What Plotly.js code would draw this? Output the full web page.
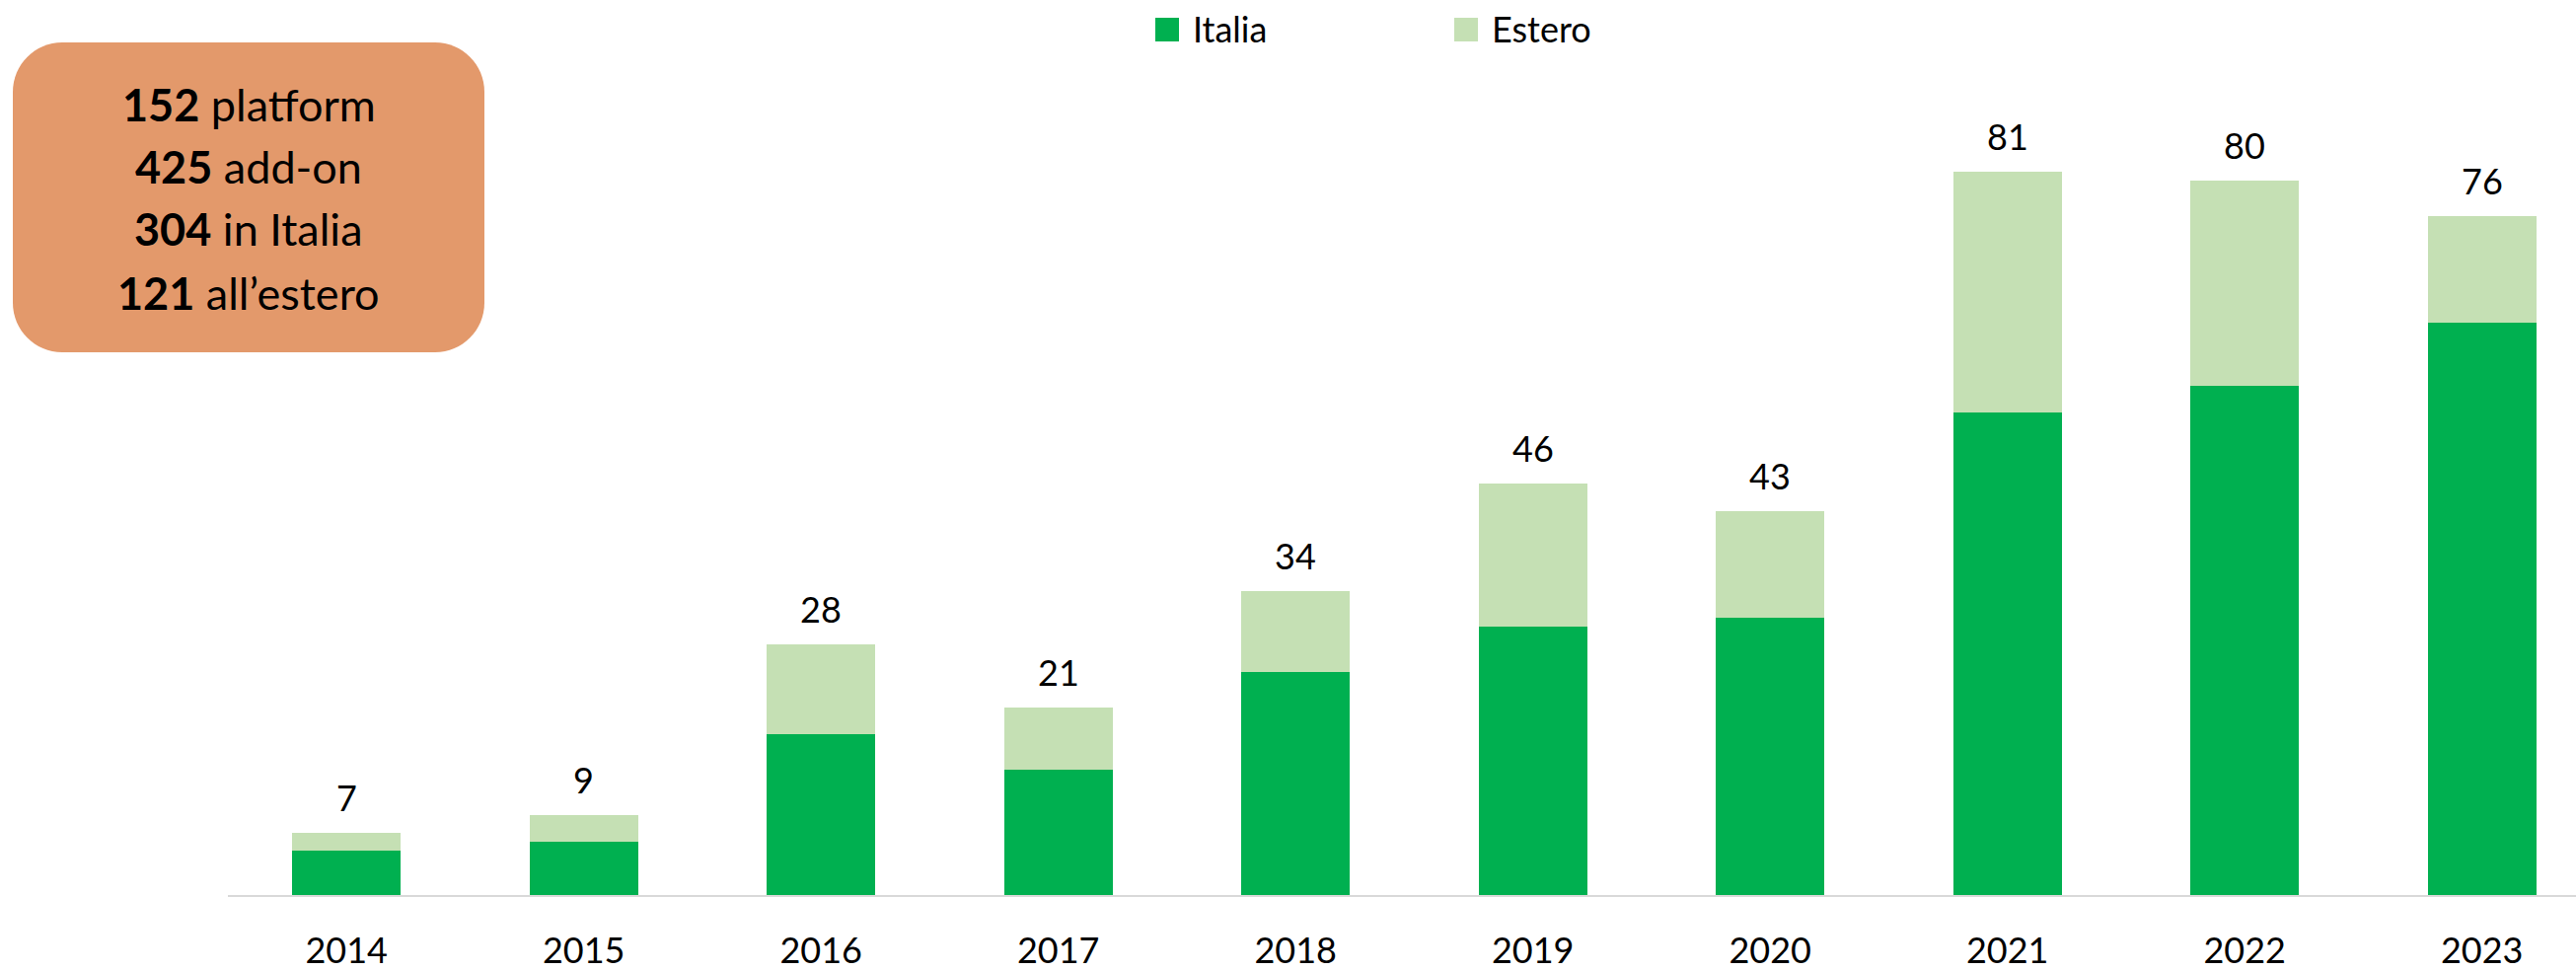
<!DOCTYPE html>
<html>
<head>
<meta charset="utf-8">
<script src="https://cdn.plot.ly/plotly-3.0.1.min.js"></script>
<style>
  html, body { margin: 0; padding: 0; background: #ffffff; }
  #chart { width: 2611px; height: 984px; }
</style>
</head>
<body>
<div id="chart"></div>
<script>
// ---- Data ----
const years = ['2014', '2015', '2016', '2017', '2018', '2019', '2020', '2021', '2022', '2023'];
const italia = [5, 6, 18, 14, 25, 30, 31, 54, 57, 64];
const estero = [2, 3, 10, 7, 9, 16, 12, 27, 23, 12];
const seriesNames = ['Italia', 'Estero'];
const seriesColors = ['#00B050', '#C5E0B4'];
const boxNumbers = ['152', '425', '304', '121'];
const boxLabels = ['platform', 'add-on', 'in Italia', 'all\u2019estero'];

const totals = years.map((_, i) => italia[i] + estero[i]);

// ---- Geometry helpers (pixels -> paper) ----
const W = 2611, H = 984;
const M = { l: 231, r: 0, t: 92, b: 77 };
const PW = W - M.l - M.r, PH = H - M.t - M.b;
const px = v => (v - M.l) / PW;
const py = v => (H - M.b - v) / PH;

function roundedRect(x0, y0, x1, y1, r) {
  const k = 0.55 * r;
  const P = (x, y) => px(x) + ',' + py(y);
  return 'M' + P(x0 + r, y0) +
    ' L' + P(x1 - r, y0) +
    ' C' + P(x1 - r + k, y0) + ' ' + P(x1, y0 + r - k) + ' ' + P(x1, y0 + r) +
    ' L' + P(x1, y1 - r) +
    ' C' + P(x1, y1 - r + k) + ' ' + P(x1 - r + k, y1) + ' ' + P(x1 - r, y1) +
    ' L' + P(x0 + r, y1) +
    ' C' + P(x0 + r - k, y1) + ' ' + P(x0, y1 - r + k) + ' ' + P(x0, y1 - r) +
    ' L' + P(x0, y0 + r) +
    ' C' + P(x0, y0 + r - k) + ' ' + P(x0 + r - k, y0) + ' ' + P(x0 + r, y0) + ' Z';
}

const FONT = 'Lato, "Open Sans", "Noto Sans", sans-serif';

const traces = [
  { type: 'bar', name: seriesNames[0], x: years, y: italia,
    marker: { color: seriesColors[0] }, showlegend: false, hoverinfo: 'x+y+name' },
  { type: 'bar', name: seriesNames[1], x: years, y: estero,
    marker: { color: seriesColors[1] }, showlegend: false, hoverinfo: 'x+y+name' }
];

const annotations = [];
// totals above bars (category index positions)
years.forEach((yr, i) => {
  annotations.push({
    x: i, y: totals[i], xref: 'x', yref: 'y',
    text: String(totals[i]), showarrow: false,
    yanchor: 'bottom', xanchor: 'center', yshift: 12,
    font: { family: FONT, size: 36, color: '#000000' }
  });
});

// manual legend
const legendSquares = [1171, 1474];
const legendText = [1207, 1510];
const shapes = [];
seriesNames.forEach((n, i) => {
  shapes.push({
    type: 'rect', xref: 'paper', yref: 'paper',
    x0: px(legendSquares[i]), x1: px(legendSquares[i] + 24),
    y0: py(42), y1: py(18),
    fillcolor: seriesColors[i], line: { width: 0 }
  });
  annotations.push({
    xref: 'paper', yref: 'paper', x: px(legendText[i]), y: py(29),
    xanchor: 'left', yanchor: 'middle', showarrow: false,
    text: n, font: { family: FONT, size: 36, color: '#000000' }
  });
});

// summary box
shapes.push({
  type: 'path', xref: 'paper', yref: 'paper',
  path: roundedRect(13, 43, 491, 357, 50),
  fillcolor: '#E3996B', line: { width: 0 }, layer: 'above'
});
const boxLineY = [106, 169, 232, 297];
boxNumbers.forEach((num, i) => {
  annotations.push({
    xref: 'paper', yref: 'paper', x: px(252), y: py(boxLineY[i]),
    xanchor: 'center', yanchor: 'middle', showarrow: false,
    text: '<b>' + num + '</b> ' + boxLabels[i],
    font: { family: FONT, size: 45, color: '#000000' }
  });
});

const layout = {
  width: W, height: H,
  margin: M,
  paper_bgcolor: '#ffffff', plot_bgcolor: '#ffffff',
  barmode: 'stack',
  bargap: 0.543,
  showlegend: false,
  font: { family: FONT, size: 36, color: '#000000' },
  xaxis: {
    type: 'category',
    range: [-0.5, -0.5 + PW / 240.5],
    showline: true, linecolor: '#D9D9D9', linewidth: 2,
    showgrid: false, zeroline: false, ticks: '',
    ticklabelstandoff: 24,
    tickfont: { family: FONT, size: 36, color: '#000000' }
  },
  yaxis: {
    range: [0, 90],
    visible: false, showgrid: false, zeroline: false
  },
  shapes: shapes,
  annotations: annotations
};

Plotly.newPlot('chart', traces, layout, { staticPlot: true, displayModeBar: false });
</script>
</body>
</html>
